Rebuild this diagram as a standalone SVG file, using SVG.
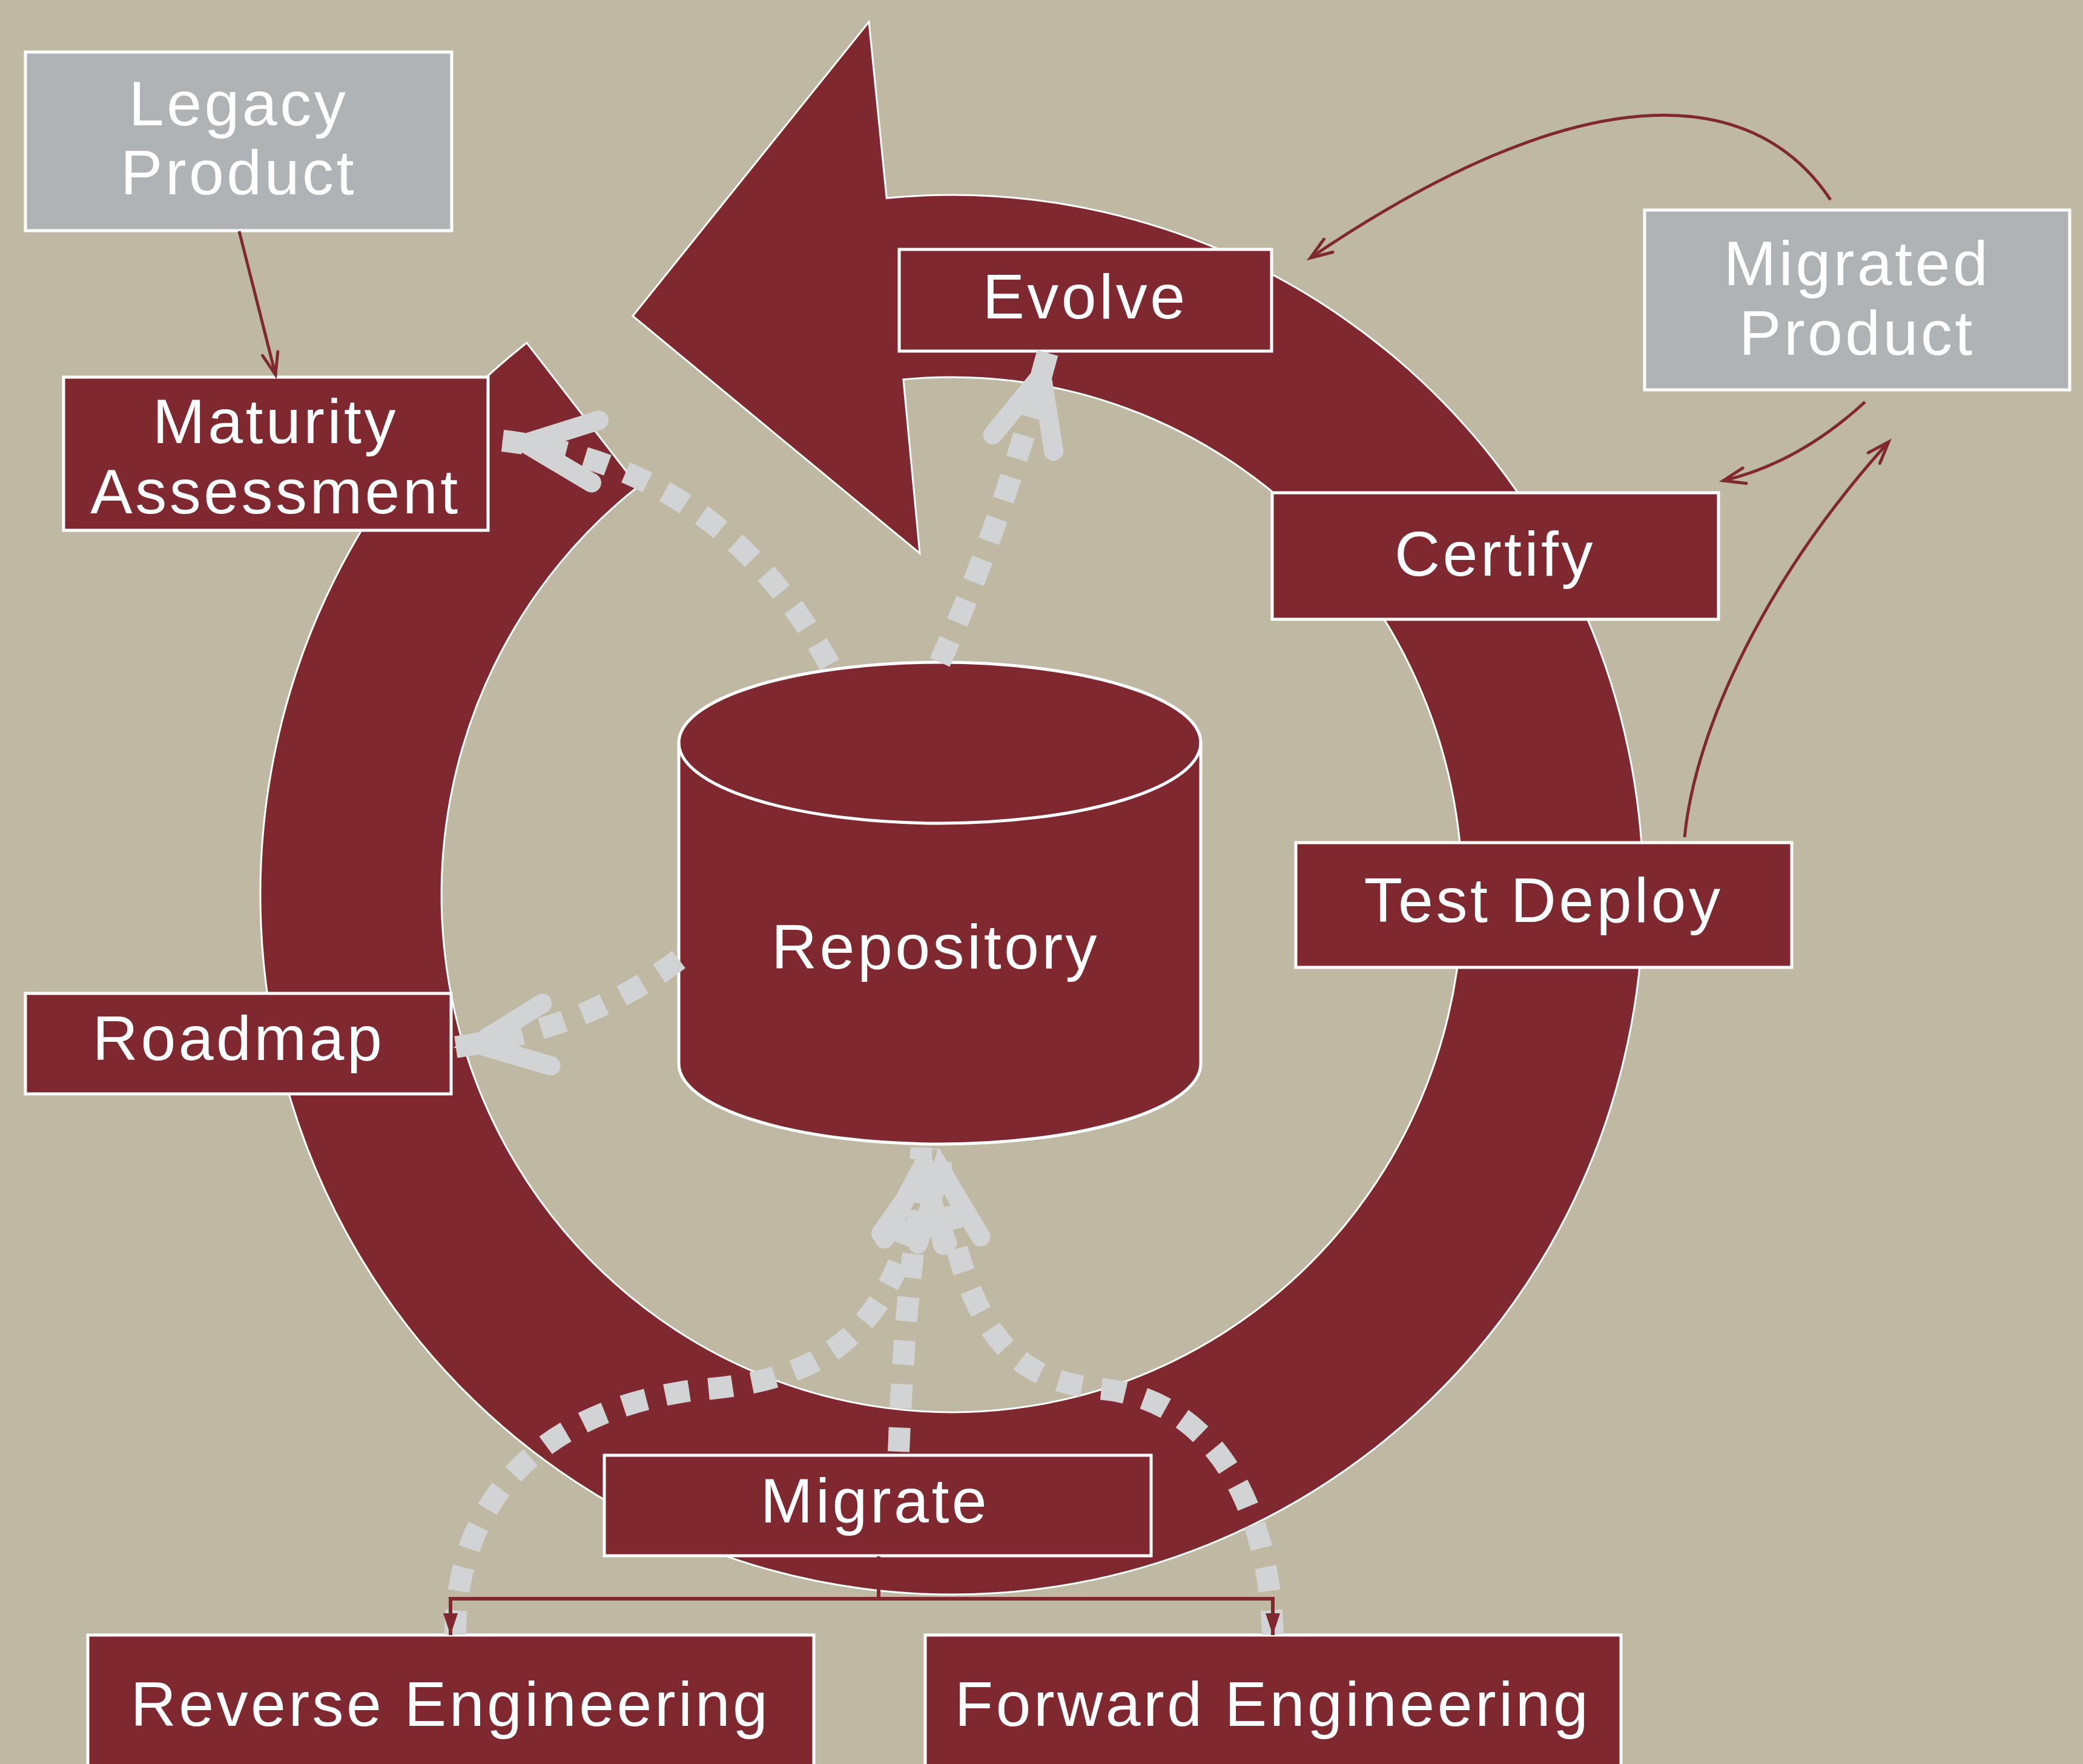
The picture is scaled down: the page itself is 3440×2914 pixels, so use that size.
<svg xmlns="http://www.w3.org/2000/svg" width="3440" height="2914" viewBox="0 0 3440 2914">
<style>
.bg{fill:#BFB9A3}
.red{fill:#80282F;stroke:#FFFFFF;stroke-width:5}
.gray{fill:#B0B3B6;stroke:#FFFFFF;stroke-width:5}
.lbl{font-family:"Liberation Sans",Arial,Helvetica,sans-serif;font-size:104px;fill:#FFFFFF;text-anchor:middle;letter-spacing:4.5px}
.dots{fill:none;stroke:#D1D3D4;stroke-width:36;stroke-dasharray:40 32}
.rline{fill:none;stroke:#80282F;stroke-width:5}
.eline{fill:none;stroke:#80282F;stroke-width:6}
</style>
<defs>
<marker id="chev" markerUnits="userSpaceOnUse" viewBox="-220 -220 440 440" markerWidth="440" markerHeight="440" refX="38" refY="0" orient="auto" overflow="visible">
<path d="M-116,-52 L0,0 L-116,52" fill="none" stroke="#D1D3D4" stroke-width="32" stroke-linecap="round" stroke-linejoin="miter"/>
</marker>
<marker id="vopen" markerUnits="userSpaceOnUse" viewBox="-60 -30 70 60" markerWidth="70" markerHeight="60" refX="0" refY="0" orient="auto" overflow="visible">
<path d="M-36,-13 L0,0 L-36,13" fill="none" stroke="#80282F" stroke-width="5" stroke-linecap="round"/>
</marker>
<marker id="tri" markerUnits="userSpaceOnUse" viewBox="-60 -30 70 60" markerWidth="70" markerHeight="60" refX="0" refY="0" orient="auto" overflow="visible">
<path d="M-36,-12 L0,0 L-36,12 Z" fill="#80282F"/>
</marker>
</defs>
<rect class="bg" x="0" y="0" width="3440" height="2914"/>
<g id="cycle">
<path d="M869.9,566.3 A1142,1156 0 1 0 1464.2,327.2 L1435,36 L1045,522 L1519,914 L1491.9,626.8 A843,855 0 1 1 1053.7,803.7 Z" fill="#80282F" stroke="#FFFFFF" stroke-width="3"/>
</g>
<g id="nodes">
<g id="legacy-product"><rect class="gray" x="42" y="86" width="704" height="295"/><text class="lbl" x="394" y="207">Legacy</text><text class="lbl" x="394" y="321">Product</text></g>
<g id="maturity-assessment"><rect class="red" x="105" y="623" width="701" height="253"/><text class="lbl" x="455" y="732">Maturity</text><text class="lbl" x="455" y="848">Assessment</text></g>
<g id="evolve"><rect class="red" x="1485" y="412" width="615" height="168"/><text class="lbl" x="1792" y="526">Evolve</text></g>
<g id="migrated-product"><rect class="gray" x="2716" y="347" width="702" height="297"/><text class="lbl" x="3067" y="471">Migrated</text><text class="lbl" x="3067" y="586">Product</text></g>
<g id="certify"><rect class="red" x="2101" y="814" width="737" height="209"/><text class="lbl" x="2469" y="951">Certify</text></g>
<g id="test-deploy"><rect class="red" x="2140" y="1392" width="819" height="206"/><text class="lbl" x="2549" y="1523">Test Deploy</text></g>
<g id="roadmap"><rect class="red" x="42" y="1641" width="703" height="166"/><text class="lbl" x="394" y="1751">Roadmap</text></g>
<g id="repository"><path class="red" d="M1121,1227 L1121,1757 A431,133 0 0 0 1983,1757 L1983,1227 A431,133 0 0 0 1121,1227 Z"/><path d="M1121,1227 A431,133 0 0 0 1983,1227" fill="none" stroke="#FFFFFF" stroke-width="5"/><text class="lbl" x="1545" y="1600">Repository</text></g>
<g id="migrate"><rect class="red" x="998" y="2404" width="903" height="166"/><text class="lbl" x="1445" y="2515">Migrate</text></g>
<g id="reverse-engineering"><rect class="red" x="145" y="2701" width="1199" height="240"/><text class="lbl" x="744" y="2851">Reverse Engineering</text></g>
<g id="forward-engineering"><rect class="red" x="1528" y="2701" width="1149" height="240"/><text class="lbl" x="2102" y="2851">Forward Engineering</text></g>
</g>
<g id="connectors">
<path class="dots" d="M1370,1098 Q1190,770 830,728" marker-end="url(#chev)"/>
<path class="dots" d="M1552,1094 Q1650,880 1730,583" marker-end="url(#chev)"/>
<path class="dots" d="M1121,1585 Q970,1700 750,1730" marker-end="url(#chev)"/>
<path class="dots" d="M1484,2398 C1490,2250 1500,2080 1535,1896" marker-end="url(#chev)"/>
<path class="dots" d="M752,2700 C752,2520 850,2340 1141,2297 C1300,2285 1500,2250 1522,1896" marker-end="url(#chev)"/>
<path class="dots" d="M2102,2700 C2095,2480 2000,2310 1815,2294 C1700,2280 1590,2240 1550,1896" marker-end="url(#chev)"/>
<path class="rline" d="M395,382 L455,619" marker-end="url(#vopen)"/>
<path class="rline" d="M3023,330 C2890,130 2600,130 2164,426" marker-end="url(#vopen)"/>
<path class="rline" d="M3080,664 Q2970,765 2846,794" marker-end="url(#vopen)"/>
<path class="rline" d="M2782,1383 C2800,1200 2920,950 3119,730" marker-end="url(#vopen)"/>
<path class="eline" d="M1451,2571 L1451,2641 L744,2641 L744,2701" marker-end="url(#tri)"/>
<path class="eline" d="M1451,2641 L2102,2641 L2102,2701" marker-end="url(#tri)"/>
</g>
</svg>
